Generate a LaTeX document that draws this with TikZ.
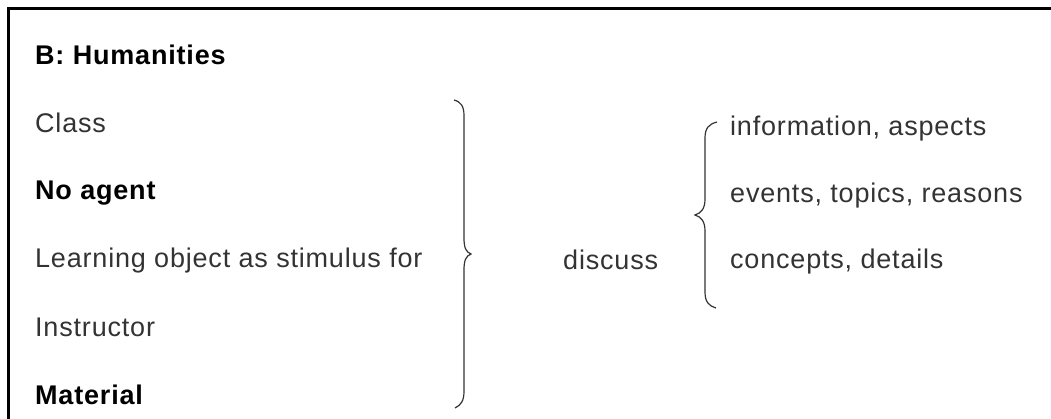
\documentclass[tikz,border=0pt]{standalone}
\usepackage{fontspec}
\setmainfont[LetterSpace=3]{Liberation Sans}
\tikzset{
  txt/.style={anchor=base west,inner sep=0pt,text=black!80,font=\fontsize{27}{32}\selectfont},
  btxt/.style={txt,text=black,font=\fontsize{27}{32}\selectfont\bfseries},
  brace/.style={black!80,line width=1.2pt}
}
\begin{document}
\begin{tikzpicture}[x=1pt,y=-1pt]
		\useasboundingbox (0,0) rectangle (1051,419);
		% frame
		\draw[line width=3pt] (8.5,419) -- (8.5,8.5) -- (1051,8.5);
		% left column
		\node[btxt] (title) at (35,65) {B: Humanities};
		\node[txt] (class) at (35,133) {Class};
		\node[btxt] (noagent) at (35,200) {No agent};
		\node[txt] (learning) at (35,268) {Learning object as stimulus for};
		\node[txt] (instructor) at (35,336) {Instructor};
		\node[btxt] (material) at (35,404) {Material};
		% big brace
		\draw[brace] (454,100) .. controls (461,102) and (464,106) .. (464,116) -- (464,238)
			.. controls (464,248) and (466,252) .. (471,254) .. controls (466,256) and (464,260) .. (464,270)
			-- (464,391) .. controls (464,401) and (461,405) .. (455,408);
		\node[txt] (discuss) at (563,270) {discuss};
		% small brace
		\draw[brace] (717,122) .. controls (709,124) and (705,128) .. (705,138) -- (705,199)
			.. controls (705,209) and (701,213) .. (695,215) .. controls (701,217) and (705,221) .. (705,231)
			-- (705,292) .. controls (705,302) and (709,306) .. (716,308);
		% right column
		\node[txt] (info) at (730,136) {information, aspects};
		\node[txt] (events) at (730,203) {events, topics, reasons};
		\node[txt] (concepts) at (730,269) {concepts, details};
		\end{tikzpicture}
\end{document}
